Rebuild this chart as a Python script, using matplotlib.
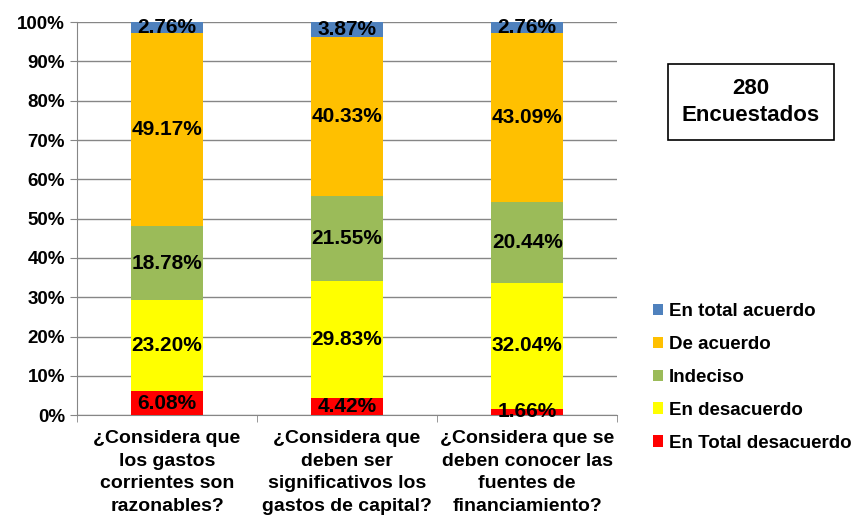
import matplotlib.pyplot as plt
import numpy as np

plt.rcParams['font.family'] = ['Liberation Sans', 'DejaVu Sans']
plt.rcParams['font.weight'] = 'bold'

questions = ["¿Considera que\nlos gastos\ncorrientes son\nrazonables?",
             "¿Considera que\ndeben ser\nsignificativos los\ngastos de capital?",
             "¿Considera que se\ndeben conocer las\nfuentes de\nfinanciamiento?"]
series = ["En Total desacuerdo", "En desacuerdo", "Indeciso", "De acuerdo", "En total acuerdo"]
total_desacuerdo = [6.08, 4.42, 1.66]
desacuerdo = [23.20, 29.83, 32.04]
indeciso = [18.78, 21.55, 20.44]
de_acuerdo = [49.17, 40.33, 43.09]
total_acuerdo = [2.76, 3.87, 2.76]
colors = ["#FF0000", "#FFFF00", "#9BBB59", "#FFC000", "#4F81BD"]

values = [total_desacuerdo, desacuerdo, indeciso, de_acuerdo, total_acuerdo]

fig = plt.figure(figsize=(8.59, 5.15), dpi=100)
ax = fig.add_axes([0.0896, 0.194, 0.629, 0.763])

x = np.arange(len(questions))
bottom = np.zeros(len(questions))
handles = []
for name, vals, col in zip(series, values, colors):
    vals = np.array(vals)
    b = ax.bar(x, vals, 0.4, bottom=bottom, color=col, label=name, zorder=3)
    handles.append(b)
    for xi, v, bt in zip(x, vals, bottom):
        ax.text(xi, bt + v / 2, f"{v:.2f}%", ha='center', va='center',
                fontsize=15, fontweight='bold', zorder=4)
    bottom += vals

ax.set_xlim(-0.5, 2.5)
ax.set_ylim(0, 100)
ax.set_yticks(np.arange(0, 101, 10))
ax.set_yticklabels([f"{v}%" for v in range(0, 101, 10)], fontsize=13.5, fontweight='bold')
ax.set_xticks(x)
ax.set_xticklabels(questions, fontsize=14, fontweight='bold', linespacing=1.42)
ax.tick_params(axis='x', length=0, pad=11)
ax.set_xticks(np.arange(-0.5, 2.6, 1), minor=True)
ax.tick_params(axis='x', which='minor', length=5, color='#868686')
ax.tick_params(axis='y', length=5, color='#868686')
ax.grid(axis='y', color='#868686', linewidth=1, zorder=0)

for s in ['top', 'right']:
    ax.spines[s].set_visible(False)
for s in ['left', 'bottom']:
    ax.spines[s].set_color('#868686')

fig.legend(handles[::-1], series[::-1], loc='upper left', bbox_to_anchor=(0.749, 0.43),
           frameon=False, borderpad=0, handlelength=0.55, handleheight=0.55,
           handletextpad=0.3, labelspacing=0.85, prop={'weight': 'bold', 'size': 13.5})

fig.text(0.874, 0.802, "280\nEncuestados", ha='center', va='center', fontsize=16,
         fontweight='bold', linespacing=1.35,
         bbox=dict(boxstyle='square,pad=0.62', facecolor='white', edgecolor='black', linewidth=1.2))

plt.savefig("out.png", dpi=100)
